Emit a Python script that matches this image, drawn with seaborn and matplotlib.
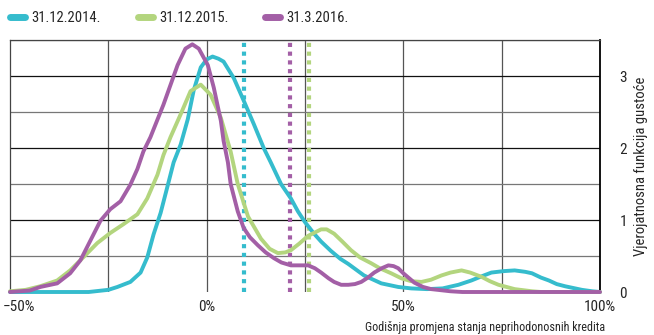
import matplotlib
matplotlib.use("Agg")
import matplotlib.pyplot as plt
import matplotlib.transforms as mtransforms
import seaborn as sns
import pandas as pd

# procijenjene gustoće (x u %, y gustoća)
x_2014 = [-50, -30, -25, -22.7, -19.4, -16.8, -15.1, -13.5, -11.7, -9.9, -8.4, -6.6, -4.8, -3.3,
          -1.5, 0, 1.5, 3, 4.3, 6.9, 9.4, 12, 14.5, 16.3, 18.9, 21.4, 23.2, 25, 27.3, 29.1, 31.6,
          34, 36, 38, 40, 44.4, 48.7, 52, 56, 60, 64, 67.3, 70, 72.4, 75.5, 78.3, 81, 82.7, 85,
          87, 89, 91.1, 95.4, 98, 100]
y_2014 = [0, 0, 0.03, 0.07, 0.14, 0.27, 0.48, 0.8, 1.1, 1.48, 1.8, 2.05, 2.4, 2.8,
          3.12, 3.23, 3.27, 3.24, 3.2, 2.97, 2.66, 2.33, 2.0, 1.8, 1.5, 1.3, 1.12, 0.97, 0.81, 0.7, 0.57,
          0.46, 0.39, 0.31, 0.23, 0.12, 0.07, 0.05, 0.04, 0.05, 0.1, 0.16, 0.22, 0.27, 0.29, 0.30, 0.28, 0.26, 0.2,
          0.16, 0.11, 0.08, 0.03, 0.01, 0]

x_2015 = [-50, -46, -42.3, -38, -34.7, -31.4, -27.8, -24.5, -21.2, -17.6, -15.1, -12.5, -11, -9.2,
          -6.6, -4.1, -1.5, 1, 3.6, 6.1, 7.9, 10.5, 13.8, 16, 18.1, 20, 21.4, 23.5, 25.8, 29.1,
          30.5, 32.4, 34.5, 36.7, 39, 41.8, 44, 46.9, 49.5, 52, 54.6, 57, 59.7, 62, 64.8, 67,
          69.9, 72, 74.2, 78.3, 82.7, 85, 100]
y_2015 = [0.01, 0.03, 0.08, 0.16, 0.3, 0.48, 0.68, 0.82, 0.94, 1.08, 1.3, 1.63, 1.9, 2.15,
          2.47, 2.79, 2.88, 2.74, 2.42, 1.95, 1.5, 1.05, 0.74, 0.6, 0.54, 0.55, 0.58, 0.67, 0.78, 0.87,
          0.87, 0.81, 0.7, 0.58, 0.48, 0.40, 0.33, 0.26, 0.19, 0.15, 0.14, 0.17, 0.23, 0.27, 0.30, 0.27,
          0.21, 0.15, 0.1, 0.04, 0.01, 0, 0]

x_2016 = [-50, -45, -42.3, -38, -34.7, -32.1, -29.6, -27, -24.5, -21.9, -19.4, -17.6, -16.1, -14.3,
          -11, -7.4, -5.4, -3.65, -2, 0.3, 1.8, 3.6, 4.3, 5.4, 6.1, 7.9, 9.4, 11, 13, 15, 17.1, 19,
          21.4, 23.5, 25.8, 27.5, 29.1, 31, 32.4, 34.2, 36, 37.7, 39.3, 41, 42.6, 44.5, 46.2, 47.5,
          48.7, 50, 52.8, 55, 57.1, 62, 65, 100]
y_2016 = [0, 0.02, 0.07, 0.12, 0.26, 0.44, 0.71, 0.99, 1.15, 1.26, 1.49, 1.71, 1.95, 2.15,
          2.6, 3.15, 3.38, 3.44, 3.38, 3.15, 2.84, 2.38, 2.1, 1.8, 1.5, 1.12, 0.89, 0.76, 0.65, 0.55, 0.47, 0.41,
          0.37, 0.37, 0.37, 0.33, 0.27, 0.19, 0.14, 0.1, 0.1, 0.11, 0.14, 0.2, 0.27, 0.33, 0.37, 0.36,
          0.33, 0.26, 0.13, 0.07, 0.04, 0.01, 0, 0]

# medijani (okomite točkaste linije)
medijani = [9.4, 26.0, 21.2]

serije = ["31.12.2014.", "31.12.2015.", "31.3.2016."]
boje = ["#35bccd", "#b3d57e", "#a35fa6"]

df = pd.concat([
    pd.DataFrame({"x": x_2014, "y": y_2014, "serija": serije[0]}),
    pd.DataFrame({"x": x_2015, "y": y_2015, "serija": serije[1]}),
    pd.DataFrame({"x": x_2016, "y": y_2016, "serija": serije[2]}),
])

sns.set_style("white")
plt.rcParams['font.family'] = ['Roboto Condensed', 'DejaVu Sans']
plt.rcParams['font.stretch'] = 'condensed'

fig = plt.figure(figsize=(6.54, 3.35), dpi=100)
ax = fig.add_axes([10/654, 43/335, 590/654, 252/335])

# mreža
for v in [-25, 0, 25, 50, 75]:
    ax.axvline(v, color="#555555", lw=0.9, zorder=0)
for h in [0.5, 1, 1.5, 2, 2.5, 3, 3.5]:
    ax.axhline(h, color="#111111" if h % 1 == 0 else "#777777", lw=0.9, zorder=0)

sns.lineplot(data=df, x="x", y="y", hue="serija", palette=boje, lw=2.8,
             sort=False, estimator=None, ax=ax, legend=False, zorder=3)
for ln in ax.lines[-3:]:
    ln.set_clip_on(False)
    ln.set_solid_capstyle("round")
    ln.set_solid_joinstyle("round")

for m, c in zip(medijani, boje):
    ax.axvline(m, color=c, lw=3, ls=(0, (1, 1.1)), zorder=2)

ax.set_xlim(-50, 100)
ax.set_ylim(0, 3.5)
ax.set_xticks([-50, 0, 50, 100])
ax.set_xticklabels(["\u221250%", "0%", "50%", "100%"], fontsize=11)
ax.yaxis.tick_right()
ax.yaxis.set_label_position("right")
ax.set_yticks([0, 1, 2, 3])
ax.set_yticklabels(["0", "1", "2", "3"], fontsize=11)
ax.tick_params(axis="y", length=0, pad=14)
ax.tick_params(axis="x", length=0, pad=6)
ax.set_xlabel("")
ax.set_ylabel("Vjerojatnosna funkcija gustoće", fontsize=10.5, labelpad=5)

lbl = ax.get_xticklabels()[0]
lbl.set_ha("left")
lbl.set_transform(lbl.get_transform() + mtransforms.ScaledTranslation(-7/100, 0, fig.dpi_scale_trans))

for side in ["left", "top"]:
    ax.spines[side].set_color("#444444")
    ax.spines[side].set_linewidth(0.9)
ax.spines["right"].set_color("black")
ax.spines["right"].set_linewidth(1.3)
ax.spines["bottom"].set_visible(False)

fig.text(605/654, 1 - 327/335, "Godišnja promjena stanja neprihodonosnih kredita",
         ha="right", va="center", fontsize=8.7)

# legenda
for x0, s, c in zip([10, 138, 265], serije, boje):
    h = plt.Line2D([], [], color=c, lw=5)
    fig.legend([h], [s], loc="center left", bbox_to_anchor=(x0/654, 1 - 18/335),
               frameon=False, handlelength=1.0, handletextpad=0.45,
               borderpad=0, borderaxespad=0, fontsize=10.5)

fig.savefig("out.png", dpi=100)
